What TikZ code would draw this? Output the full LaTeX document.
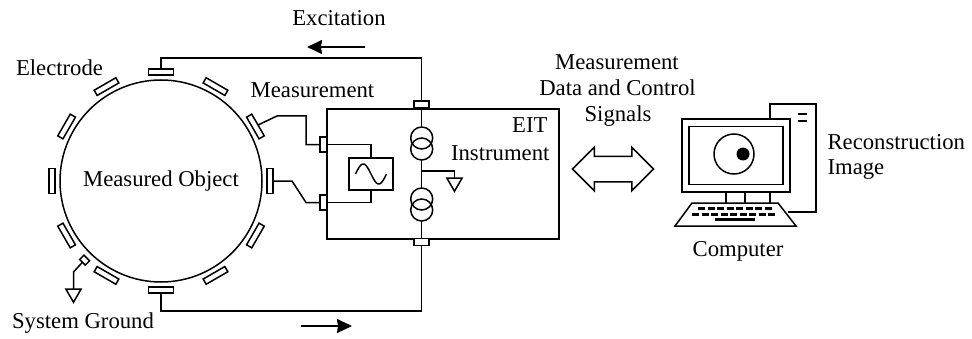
\documentclass[tikz,border=0pt]{standalone}
\usepackage{fontspec}
\setmainfont{Liberation Serif}
\usetikzlibrary{arrows.meta,shapes.geometric,shapes.arrows}

\tikzset{
    box/.style={draw, inner sep=0, outer sep=0},
    electrode/.style={box, fill=white, minimum width=25, minimum height=6},
    port/.style={box, fill=white},
    source/.style={draw, circle, inner sep=0, outer sep=0, minimum size=22},
    ground/.style={draw, regular polygon, regular polygon sides=3, shape border rotate=180, inner sep=0, outer sep=0, minimum size=17.5},
    flow/.style={-{Stealth[length=15,width=14,inset=1]}, line width=1.5},
    keys/.style={line width=3, dash pattern=on 7 off 2.5}
}

\begin{document}
\begin{tikzpicture}[x=1pt, y=1pt, line width=1.5, font=\fontsize{22.7}{26}\selectfont]
    \useasboundingbox (0, 0) rectangle (972, 338);

    \node[draw, circle, inner sep=0, minimum size=202] (object) at (161, 157) {};
    \node at (161, 157) { Measured Object };
    \foreach \a in {0, 30, ..., 330}
        \node[electrode, rotate=\a-90] (e\a) at ([shift={(\a:109)}] object.center) {};
    \node[box, fill=white, minimum width=8, minimum height=6, rotate=-225] (eg) at ([shift={(-134:110)}] object.center) {};

    \node[box, minimum width=232, minimum height=130] (eit) at (443, 164) {};
    \node[port, minimum width=15, minimum height=7] (ptop) at (421.7, 233.5) {};
    \node[port, minimum width=15, minimum height=7] (pbot) at (421.7, 96) {};
    \node[port, minimum width=7, minimum height=15] (pup) at (323.5, 193.5) {};
    \node[port, minimum width=7, minimum height=15] (plow) at (323.5, 135.5) {};
    \node[box, minimum width=44, minimum height=32] (sine) at (371, 164) {};
    \draw[shift={(sine.center)}, domain=0:360, samples=40, smooth] plot ({-15.5+\x/360*31}, {10*sin(\x)});

    \node[source] (s1a) at (421.7, 200) {};
    \node[source] (s1b) at (421.7, 189) {};
    \node[source] (s2a) at (421.7, 139) {};
    \node[source] (s2b) at (421.7, 128) {};
    \node[ground] (g1) at (454.5, 155.5) {};
    \node[ground] (g2) at (73.5, 44.5) {};

    \coordinate (wtop) at (421.7, 280);
    \coordinate (wbot) at (421.7, 27);
    \coordinate (tap) at (421.7, 167);
    \coordinate (ub1) at (277, 222);
    \coordinate (ub2) at (306, 222);
    \coordinate (ub3) at (306, 193.5);
    \coordinate (lb1) at (292, 157);
    \coordinate (lb2) at (306, 135.5);
    \coordinate (gb) at (73.5, 66);

    \draw (e90.north) |- (wtop) -- (ptop.north);
    \draw (e270.north) |- (wbot) -- (pbot.south);
    \draw (ptop.south) -- (s1a.north);
    \draw (s1b.south) -- (s2a.north);
    \draw (s2b.south) -- (pbot.north);
    \draw (tap) -| (g1.north);
    \draw (e30.north) -- (ub1) -- (ub2) -- (ub3) -- (pup.west);
    \draw (e0.north) -- (lb1) -- (lb2) -- (plow.west);
    \draw (pup.east) -| (sine.north);
    \draw (plow.east) -| (sine.south);
    \draw (eg.north) -- (gb) -- (g2.north);

    \coordinate (ex1) at (365, 291);
    \coordinate (ex2) at (307, 291);
    \coordinate (ex3) at (301, 12);
    \coordinate (ex4) at (352, 12);
    \draw[flow] (ex1) -- (ex2);
    \draw[flow] (ex3) -- (ex4);

    \node[draw, double arrow, inner xsep=0, inner ysep=12, minimum height=81, double arrow head extend=9] (link) at (613, 169) {};

    % computer
    \draw (770, 219) |- (816, 234) |- (788, 126);
    \draw (770, 146) -- (770, 135);
    \draw[line width=2.5] (798, 224) -- (807, 224);
    \draw[line width=2.5] (798, 217) -- (807, 217);
    \node[box, line width=1.7, minimum width=108, minimum height=73] (monitor) at (736, 182.5) {};
    \node[box, minimum width=94, minimum height=58] (screen) at (736, 182.5) {};
    \node[draw, circle, inner sep=0, minimum size=40] (disc) at (734, 184) {};
    \node[circle, fill, inner sep=0, minimum size=13] (dot) at (743, 184) {};
    \draw (726, 146) -- (726, 135);
    \draw (745, 146) -- (745, 135);
    \draw[fill=white] (692, 135) -- (778, 135) -- (796, 112) -- (675, 112) -- cycle;
    \draw[keys] (698, 130) -- (772, 130);
    \draw[keys] (692, 124) -- (777, 124);
    \draw[line width=3] (715, 119) -- (755, 119);

    \node at (59.5, 270) { Electrode };
    \node at (339, 320) { Excitation };
    \node at (312.5, 248) { Measurement };
    \node[anchor=east] at (551.5, 213) { EIT };
    \node[anchor=east] at (553.5, 185) { Instrument };
    \node at (617, 276) { Measurement };
    \node at (617.5, 250) { Data and Control };
    \node at (618, 222) { Signals };
    \node[anchor=west] at (823.5, 196) { Reconstruction };
    \node[anchor=west] at (823.5, 168) { Image };
    \node at (738, 86.5) { Computer };
    \node at (83, 15) { System Ground };
\end{tikzpicture}
\end{document}
